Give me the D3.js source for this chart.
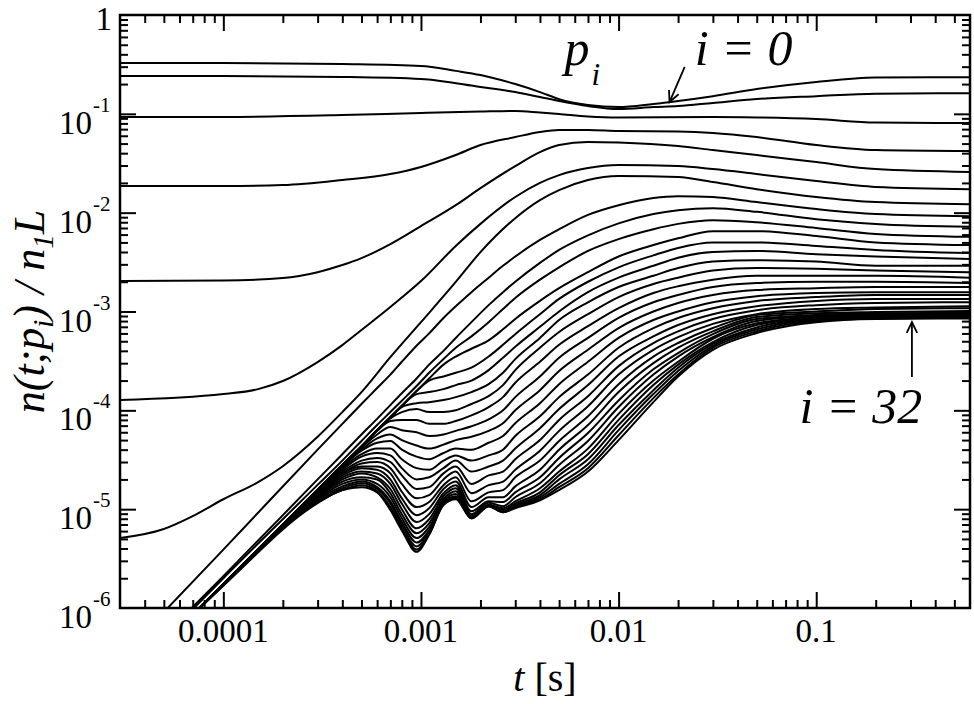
<!DOCTYPE html>
<html>
<head>
<meta charset="utf-8">
<script src="https://cdn.jsdelivr.net/npm/d3@7/dist/d3.min.js"></script>
<style>
html,body{margin:0;padding:0;background:#fff;}
svg{display:block;}
text{font-family:"Liberation Serif","Times New Roman",serif;fill:#000;}
</style>
</head>
<body>
<svg id="chart" width="974" height="704"></svg>
<script>
// ---------------- DATA ----------------
const xTickLabels = [[1e-4, "0.0001"], [1e-3, "0.001"], [1e-2, "0.01"], [1e-1, "0.1"]];
const yTickExponents = [-6, -5, -4, -3, -2, -1, 0];

// curves i = 0..6 : [t, n/n1L]
const curve0 = [[3e-5,0.327],[1e-4,0.327],[4e-4,0.319],[1e-3,0.305],[1.5e-3,0.272],[2e-3,0.247],[3e-3,0.200],[4e-3,0.166],[5e-3,0.141],[7e-3,0.123],[1e-2,0.117],[1.5e-2,0.126],[2e-2,0.135],[3e-2,0.151],[5e-2,0.178],[0.1,0.210],[0.2,0.233],[0.6,0.235]];
const curve1 = [[3e-5,0.241],[1e-4,0.241],[4e-4,0.236],[1e-3,0.225],[2e-3,0.187],[3e-3,0.166],[4e-3,0.148],[5e-3,0.135],[7e-3,0.120],[1e-2,0.112],[1.5e-2,0.117],[2e-2,0.120],[3e-2,0.129],[5e-2,0.141],[0.1,0.151],[0.2,0.160],[0.6,0.162]];
const curve2 = [[3e-5,0.0929],[1e-4,0.093],[4e-4,0.0972],[1e-3,0.102],[2e-3,0.1055],[3e-3,0.107],[4e-3,0.103],[5e-3,0.0995],[7e-3,0.094],[1e-2,0.0918],[3e-2,0.093],[5e-2,0.092],[0.1,0.0886],[0.2,0.0817],[0.6,0.0807]];
const curve3 = [[3e-5,0.0186],[1e-4,0.0186],[2e-4,0.019],[4e-4,0.0214],[7e-4,0.0246],[1e-3,0.029],[1.5e-3,0.0383],[2e-3,0.0483],[3e-3,0.0582],[4e-3,0.0655],[5e-3,0.0686],[7e-3,0.0686],[1e-2,0.067],[2e-2,0.0662],[3e-2,0.064],[5e-2,0.0582],[0.1,0.0483],[0.2,0.043],[0.6,0.042]];
const curve4 = [[3e-5,0.00203],[1e-4,0.00206],[2e-4,0.00218],[3e-4,0.0025],[4e-4,0.00295],[5e-4,0.00347],[7e-4,0.00481],[1e-3,0.00731],[1.5e-3,0.0119],[2e-3,0.0177],[3e-3,0.0296],[4e-3,0.041],[5e-3,0.0483],[7e-3,0.0519],[1e-2,0.0512],[2e-2,0.0472],[3e-2,0.043],[5e-2,0.0383],[0.1,0.0325],[0.2,0.0276],[0.6,0.0258]];
const curve5 = [[3e-5,1.27e-4],[1e-4,1.46e-4],[1.5e-4,1.64e-4],[2e-4,1.98e-4],[3e-4,3.08e-4],[4e-4,4.57e-4],[5e-4,6.5e-4],[7e-4,1.11e-3],[1e-3,2.03e-3],[1.5e-3,4.6e-3],[2e-3,7.7e-3],[3e-3,0.0144],[4e-3,0.02],[5e-3,0.024],[7e-3,0.0283],[1e-2,0.0303],[2e-2,0.0296],[3e-2,0.0276],[5e-2,0.0246],[0.1,0.0209],[0.2,0.0182],[0.6,0.0173]];
const curve6 = [[3e-5,5.1e-6],[5e-5,6.3e-6],[7e-5,8.5e-6],[1e-4,1.26e-5],[1.5e-4,1.88e-5],[2e-4,2.72e-5],[3e-4,5.4e-5],[4e-4,9.6e-5],[5e-4,1.53e-4],[7e-4,3.45e-4],[1e-3,7.8e-4],[1.5e-3,1.99e-3],[2e-3,3.99e-3],[3e-3,8.8e-3],[4e-3,0.0134],[5e-3,0.0169],[7e-3,0.0214],[1e-2,0.0235],[2e-2,0.0229],[3e-2,0.0204],[5e-2,0.0173],[0.1,0.0144],[0.2,0.0128],[0.6,0.0122]];

// curves i = 7..32 share one time grid
const tGrid = [5e-5,1e-4,3e-4,4e-4,5e-4,6e-4,7e-4,8e-4,9.5e-4,1.1e-3,1.3e-3,1.5e-3,1.8e-3,2.2e-3,2.6e-3,3e-3,4e-3,5e-3,7e-3,1e-2,1.5e-2,2e-2,3e-2,5e-2,0.1,0.2,0.6];
const bandValues = [
 /* 7*/ [9.1e-7,3.9e-6,4.0e-5,7.3e-5,1.16e-4,1.68e-4,2.3e-4,3.1e-4,4.5e-4,6.0e-4,8.6e-4,1.13e-3,1.57e-3,2.2e-3,2.9e-3,3.6e-3,5.3e-3,6.8e-3,9.5e-3,0.0119,0.0141,0.0147,0.0144,0.0128,0.0109,9.7e-3,9.2e-3],
 /* 8*/ [5.2e-7,2.1e-6,2.0e-5,3.6e-5,5.7e-5,8.2e-5,1.13e-4,1.49e-4,2.1e-4,2.9e-4,4.0e-4,5.4e-4,7.8e-4,1.16e-3,1.57e-3,2.0e-3,3.1e-3,4.2e-3,5.9e-3,7.8e-3,9.7e-3,0.0106,0.0111,0.0102,8.6e-3,7.7e-3,7.2e-3],
 /* 9*/ [4.9e-7,2.0e-6,1.76e-5,3.1e-5,4.9e-5,7.1e-5,9.6e-5,1.25e-4,1.76e-4,2.4e-4,3.3e-4,4.3e-4,5.6e-4,7.8e-4,1.06e-3,1.37e-3,2.1e-3,2.8e-3,4.1e-3,5.4e-3,6.8e-3,7.7e-3,8.4e-3,8.0e-3,7.0e-3,6.1e-3,5.7e-3],
 /*10*/ [4.4e-7,1.74e-6,1.57e-5,2.8e-5,4.3e-5,6.3e-5,8.5e-5,1.11e-4,1.57e-4,2.1e-4,2.9e-4,3.5e-4,4.2e-4,5.1e-4,6.6e-4,8.4e-4,1.28e-3,1.72e-3,2.5e-3,3.6e-3,4.7e-3,5.5e-3,6.5e-3,6.5e-3,5.8e-3,5.0e-3,4.7e-3],
 /*11*/ [4.4e-7,1.74e-6,1.57e-5,2.8e-5,4.3e-5,6.3e-5,8.5e-5,1.11e-4,1.57e-4,2.0e-4,2.2e-4,2.4e-4,2.7e-4,3.5e-4,4.6e-4,5.9e-4,9.4e-4,1.34e-3,2.0e-3,2.8e-3,3.7e-3,4.4e-3,5.0e-3,5.0e-3,4.6e-3,4.2e-3,3.9e-3],
 /*12*/ [4.4e-7,1.74e-6,1.57e-5,2.8e-5,4.3e-5,6.3e-5,8.5e-5,1.11e-4,1.46e-4,1.53e-4,1.64e-4,1.8e-4,2.0e-4,2.55e-4,3.4e-4,4.4e-4,7.0e-4,1.0e-3,1.57e-3,2.2e-3,2.9e-3,3.5e-3,4.0e-3,4.1e-3,3.8e-3,3.6e-3,3.4e-3],
 /*13*/ [4.4e-7,1.74e-6,1.57e-5,2.8e-5,4.3e-5,6.3e-5,8.5e-5,1.08e-4,1.18e-4,1.21e-4,1.27e-4,1.36e-4,1.53e-4,1.84e-4,2.4e-4,3.3e-4,5.4e-4,8.2e-4,1.24e-3,1.77e-3,2.3e-3,2.75e-3,3.2e-3,3.3e-3,3.2e-3,2.9e-3,2.9e-3],
 /*14*/ [4.4e-7,1.74e-6,1.57e-5,2.8e-5,4.3e-5,6.3e-5,8.3e-5,9.6e-5,1.03e-4,9.6e-5,9.6e-5,1.0e-4,1.16e-4,1.39e-4,1.8e-4,2.55e-4,4.3e-4,6.2e-4,9.4e-4,1.4e-3,1.9e-3,2.2e-3,2.6e-3,2.75e-3,2.7e-3,2.6e-3,2.5e-3],
 /*15*/ [4.4e-7,1.74e-6,1.57e-5,2.8e-5,4.3e-5,6.2e-5,7.8e-5,8.0e-5,8.0e-5,7.3e-5,7.3e-5,7.8e-5,8.9e-5,1.08e-4,1.36e-4,1.9e-4,3.1e-4,4.6e-4,7.1e-4,1.08e-3,1.54e-3,1.8e-3,2.1e-3,2.3e-3,2.3e-3,2.3e-3,2.2e-3],
 /*16*/ [4.4e-7,1.74e-6,1.56e-5,2.8e-5,4.2e-5,5.7e-5,6.8e-5,6.3e-5,6.0e-5,5.5e-5,5.7e-5,6.2e-5,6.9e-5,8.1e-5,1.0e-4,1.36e-4,2.2e-4,3.4e-4,5.4e-4,8.6e-4,1.24e-3,1.47e-3,1.77e-3,1.94e-3,2.0e-3,2.0e-3,1.94e-3],
 /*17*/ [4.4e-7,1.74e-6,1.56e-5,2.7e-5,4.0e-5,5.2e-5,5.7e-5,5.0e-5,4.4e-5,4.1e-5,4.5e-5,5.0e-5,5.4e-5,6.2e-5,7.4e-5,1.0e-4,1.6e-4,2.5e-4,4.1e-4,6.8e-4,1.0e-3,1.22e-3,1.47e-3,1.65e-3,1.72e-3,1.77e-3,1.77e-3],
 /*18*/ [4.4e-7,1.74e-6,1.54e-5,2.7e-5,3.9e-5,4.7e-5,4.9e-5,4.0e-5,3.4e-5,3.2e-5,3.7e-5,4.1e-5,4.0e-5,4.7e-5,5.5e-5,7.4e-5,1.18e-4,1.84e-4,3.1e-4,5.4e-4,8.2e-4,1.0e-3,1.24e-3,1.43e-3,1.54e-3,1.57e-3,1.57e-3],
 /*19*/ [4.4e-7,1.74e-6,1.52e-5,2.6e-5,3.6e-5,4.1e-5,4.1e-5,3.2e-5,2.6e-5,2.5e-5,3.1e-5,3.5e-5,3.1e-5,3.5e-5,4.0e-5,5.5e-5,8.7e-5,1.36e-4,2.3e-4,4.3e-4,6.8e-4,8.6e-4,1.08e-3,1.28e-3,1.4e-3,1.47e-3,1.47e-3],
 /*20*/ [4.4e-7,1.74e-6,1.5e-5,2.5e-5,3.4e-5,3.7e-5,3.5e-5,2.6e-5,2.0e-5,2.1e-5,2.6e-5,3.1e-5,2.4e-5,2.7e-5,3.1e-5,4.1e-5,6.6e-5,1.03e-4,1.8e-4,3.5e-4,5.6e-4,7.3e-4,9.4e-4,1.13e-3,1.28e-3,1.34e-3,1.34e-3],
 /*21*/ [4.4e-7,1.74e-6,1.48e-5,2.4e-5,3.1e-5,3.3e-5,3.0e-5,2.2e-5,1.6e-5,1.67e-5,2.3e-5,2.7e-5,1.8e-5,2.2e-5,2.4e-5,3.2e-5,5.0e-5,8.0e-5,1.39e-4,2.8e-4,4.8e-4,6.3e-4,8.4e-4,1.03e-3,1.16e-3,1.22e-3,1.24e-3],
 /*22*/ [4.4e-7,1.74e-6,1.47e-5,2.3e-5,2.9e-5,3.0e-5,2.6e-5,1.8e-5,1.29e-5,1.39e-5,2.0e-5,2.4e-5,1.45e-5,1.75e-5,1.9e-5,2.5e-5,3.9e-5,6.2e-5,1.1e-4,2.3e-4,4.1e-4,5.5e-4,7.5e-4,9.4e-4,1.06e-3,1.1e-3,1.13e-3],
 /*23*/ [4.4e-7,1.74e-6,1.44e-5,2.3e-5,2.7e-5,2.7e-5,2.3e-5,1.5e-5,1.05e-5,1.18e-5,1.75e-5,2.1e-5,1.2e-5,1.48e-5,1.56e-5,2.1e-5,3.1e-5,4.9e-5,8.7e-5,1.84e-4,3.5e-4,4.8e-4,6.8e-4,9.2e-4,1.0e-3,1.06e-3,1.08e-3],
 /*24*/ [4.4e-7,1.74e-6,1.41e-5,2.2e-5,2.6e-5,2.5e-5,2.0e-5,1.29e-5,8.7e-6,1.02e-5,1.6e-5,1.9e-5,1.05e-5,1.32e-5,1.32e-5,1.7e-5,2.5e-5,4.0e-5,7.1e-5,1.53e-4,3.0e-4,4.3e-4,6.3e-4,8.8e-4,9.6e-4,9.9e-4,1.01e-3],
 /*25*/ [4.4e-7,1.74e-6,1.37e-5,2.1e-5,2.4e-5,2.3e-5,1.8e-5,1.14e-5,7.4e-6,8.9e-6,1.45e-5,1.75e-5,9.5e-6,1.2e-5,1.18e-5,1.48e-5,2.1e-5,3.3e-5,5.9e-5,1.26e-4,2.6e-4,3.8e-4,5.9e-4,8.4e-4,9.2e-4,9.6e-4,9.7e-4],
 /*26*/ [4.4e-7,1.74e-6,1.34e-5,2.0e-5,2.3e-5,2.1e-5,1.6e-5,1.0e-5,6.4e-6,7.9e-6,1.35e-5,1.63e-5,8.9e-6,1.16e-5,1.07e-5,1.32e-5,1.83e-5,2.8e-5,4.9e-5,1.08e-4,2.3e-4,3.5e-4,5.5e-4,8.0e-4,9.0e-4,9.4e-4,9.5e-4],
 /*27*/ [4.4e-7,1.74e-6,1.31e-5,1.9e-5,2.1e-5,2.0e-5,1.45e-5,8.9e-6,5.7e-6,7.2e-6,1.26e-5,1.52e-5,8.5e-6,1.11e-5,1.02e-5,1.2e-5,1.63e-5,2.4e-5,4.1e-5,9.2e-5,2.0e-4,3.1e-4,5.3e-4,7.6e-4,8.8e-4,9.2e-4,9.3e-4],
 /*28*/ [4.4e-7,1.74e-6,1.28e-5,1.8e-5,2.0e-5,1.8e-5,1.32e-5,8.1e-6,5.1e-6,6.6e-6,1.2e-5,1.42e-5,8.3e-6,1.1e-5,9.8e-6,1.14e-5,1.48e-5,2.2e-5,3.6e-5,8.0e-5,1.8e-4,2.9e-4,4.9e-4,7.3e-4,8.6e-4,9.0e-4,9.1e-4],
 /*29*/ [4.4e-7,1.72e-6,1.25e-5,1.7e-5,1.9e-5,1.67e-5,1.2e-5,7.4e-6,4.6e-6,6.1e-6,1.16e-5,1.35e-5,8.2e-6,1.08e-5,9.5e-6,1.1e-5,1.39e-5,2.0e-5,3.2e-5,7.1e-5,1.6e-4,2.7e-4,4.7e-4,6.9e-4,8.4e-4,8.8e-4,8.9e-4],
 /*30*/ [4.4e-7,1.7e-6,1.2e-5,1.63e-5,1.83e-5,1.6e-5,1.14e-5,6.9e-6,4.2e-6,5.9e-6,1.14e-5,1.31e-5,8.1e-6,1.07e-5,9.4e-6,1.07e-5,1.32e-5,1.8e-5,2.85e-5,6.3e-5,1.46e-4,2.5e-4,4.5e-4,6.6e-4,8.2e-4,8.6e-4,8.8e-4],
 /*31*/ [4.4e-7,1.7e-6,1.18e-5,1.56e-5,1.75e-5,1.52e-5,1.05e-5,6.4e-6,3.9e-6,5.6e-6,1.11e-5,1.28e-5,8.1e-6,1.07e-5,9.3e-6,1.05e-5,1.26e-5,1.67e-5,2.6e-5,5.6e-5,1.33e-4,2.3e-4,4.3e-4,6.3e-4,8.0e-4,8.5e-4,8.7e-4],
 /*32*/ [4.4e-7,1.68e-6,1.15e-5,1.56e-5,1.67e-5,1.48e-5,9.8e-6,6.1e-6,3.7e-6,5.5e-6,1.1e-5,1.26e-5,8.1e-6,1.07e-5,9.3e-6,1.02e-5,1.23e-5,1.56e-5,2.4e-5,5.0e-5,1.21e-4,2.2e-4,4.1e-4,6.05e-4,7.8e-4,8.4e-4,8.5e-4]
];

// annotation anchors in data coordinates [t, value]
const labelP = [5.33e-3, 0.312];
const labelI0 = [0.0243, 0.312];
const arrowI0 = {from:[0.0216, 0.298], to:[0.0181, 0.1316]};
const labelI32 = [0.0824, 7.4e-5];
const arrowI32 = {from:[0.305, 2.17e-4], to:[0.305, 7.8e-4]};

// ---------------- CHART ----------------
const svg = d3.select("#chart");
const P = {l:120, r:970, t:15, b:608};
const x = d3.scaleLog().domain([3e-5, 0.6]).range([P.l, P.r]);
const y = d3.scaleLog().domain([1e-6, 1]).range([P.b, P.t]);

svg.append("defs").append("clipPath").attr("id","plotclip")
  .append("rect").attr("x",P.l).attr("y",P.t).attr("width",P.r-P.l).attr("height",P.b-P.t);

const series = [curve0, curve1, curve2, curve3, curve4, curve5, curve6]
  .concat(bandValues.map(vals => tGrid.map((t,i) => [t, vals[i]])));

const line = d3.line().x(d => x(d[0])).y(d => y(d[1])).curve(d3.curveMonotoneX);

svg.append("g").attr("clip-path","url(#plotclip)")
  .selectAll("path").data(series).join("path")
  .attr("d", line).attr("fill","none").attr("stroke","#000")
  .attr("stroke-width",2).attr("stroke-linejoin","round");

// ticks
const xt = x.ticks().filter(v => v > 3.01e-5 && v < 0.599);
const isMajor = v => Math.abs(Math.log10(v) - Math.round(Math.log10(v))) < 1e-6;
const xMaj = xt.filter(isMajor), xMin = xt.filter(v => !isMajor(v));
const ytk = y.ticks().filter(v => v > 1.01e-6 && v < 0.99);
const yMaj = ytk.filter(isMajor), yMin = ytk.filter(v => !isMajor(v));

function styleAxis(g){
  g.select(".domain").remove();
  g.selectAll("line").attr("stroke","#000").attr("stroke-width",2);
}
const MAJ = 16, MIN = 8;
svg.append("g").attr("transform",`translate(0,${P.b})`).call(d3.axisBottom(x).tickValues(xMaj).tickSize(-MAJ).tickFormat("")).call(styleAxis);
svg.append("g").attr("transform",`translate(0,${P.b})`).call(d3.axisBottom(x).tickValues(xMin).tickSize(-MIN).tickFormat("")).call(styleAxis);
svg.append("g").attr("transform",`translate(0,${P.t})`).call(d3.axisTop(x).tickValues(xMaj).tickSize(-MAJ).tickFormat("")).call(styleAxis);
svg.append("g").attr("transform",`translate(0,${P.t})`).call(d3.axisTop(x).tickValues(xMin).tickSize(-MIN).tickFormat("")).call(styleAxis);
svg.append("g").attr("transform",`translate(${P.l},0)`).call(d3.axisLeft(y).tickValues(yMaj).tickSize(-MAJ).tickFormat("")).call(styleAxis);
svg.append("g").attr("transform",`translate(${P.l},0)`).call(d3.axisLeft(y).tickValues(yMin).tickSize(-MIN).tickFormat("")).call(styleAxis);
svg.append("g").attr("transform",`translate(${P.r},0)`).call(d3.axisRight(y).tickValues(yMaj).tickSize(-MAJ).tickFormat("")).call(styleAxis);
svg.append("g").attr("transform",`translate(${P.r},0)`).call(d3.axisRight(y).tickValues(yMin).tickSize(-MIN).tickFormat("")).call(styleAxis);

// frame
svg.append("rect").attr("x",P.l).attr("y",P.t).attr("width",P.r-P.l).attr("height",P.b-P.t)
  .attr("fill","none").attr("stroke","#000").attr("stroke-width",2.5);

// x tick labels
svg.selectAll(".xlab").data(xTickLabels).join("text")
  .attr("x", d => x(d[0])).attr("y", P.b + 34)
  .attr("text-anchor","middle").attr("font-size",33).text(d => d[1]);

// y tick labels
yTickExponents.forEach(e => {
  const v = Math.pow(10, e), yy = y(v);
  if (e === 0) {
    svg.append("text").attr("x",112).attr("y",yy+15).attr("text-anchor","end").attr("font-size",33).text("1");
  } else {
    svg.append("text").attr("x",92).attr("y",yy+20).attr("text-anchor","end").attr("font-size",33).text("10");
    svg.append("text").attr("x",93).attr("y",yy-2).attr("text-anchor","start").attr("font-size",21).text(String(e));
  }
});

// axis titles
const yt = svg.append("text").attr("transform",`translate(44,${(P.t+P.b)/2}) rotate(-90)`)
  .attr("text-anchor","middle").attr("font-size",44).attr("font-style","italic");
yt.append("tspan").text("n(t;p");
yt.append("tspan").attr("font-size",29).attr("dy",9).text("i");
yt.append("tspan").attr("dy",-9).text(") / n");
yt.append("tspan").attr("font-size",29).attr("dy",9).text("1");
yt.append("tspan").attr("dy",-9).text("L");

const xtl = svg.append("text").attr("x",(P.l+P.r)/2).attr("y",691).attr("text-anchor","middle").attr("font-size",40);
xtl.append("tspan").attr("font-style","italic").text("t");
xtl.append("tspan").text(" [s]");

// annotations
const pt = svg.append("text").attr("x",x(labelP[0])).attr("y",y(labelP[1])).attr("font-size",50).attr("font-style","italic");
pt.append("tspan").text("p");
pt.append("tspan").attr("font-size",31).attr("dy",20).attr("dx",2).text("i");

svg.append("text").attr("x",x(labelI0[0])).attr("y",y(labelI0[1])).attr("font-size",50).attr("font-style","italic").text("i = 0");
svg.append("text").attr("x",x(labelI32[0])).attr("y",y(labelI32[1])).attr("font-size",50).attr("font-style","italic").text("i = 32");

function arrow(a){
  const x1 = x(a.from[0]), y1 = y(a.from[1]), x2 = x(a.to[0]), y2 = y(a.to[1]);
  const ang = Math.atan2(y2-y1, x2-x1), L = 12, spread = 0.45;
  const g = svg.append("g").attr("stroke","#000").attr("stroke-width",1.8).attr("fill","none");
  g.append("line").attr("x1",x1).attr("y1",y1).attr("x2",x2).attr("y2",y2);
  g.append("path").attr("d", `M${x2-L*Math.cos(ang-spread)},${y2-L*Math.sin(ang-spread)} L${x2},${y2} L${x2-L*Math.cos(ang+spread)},${y2-L*Math.sin(ang+spread)}`);
}
arrow(arrowI0);
arrow(arrowI32);
</script>
</body>
</html>
